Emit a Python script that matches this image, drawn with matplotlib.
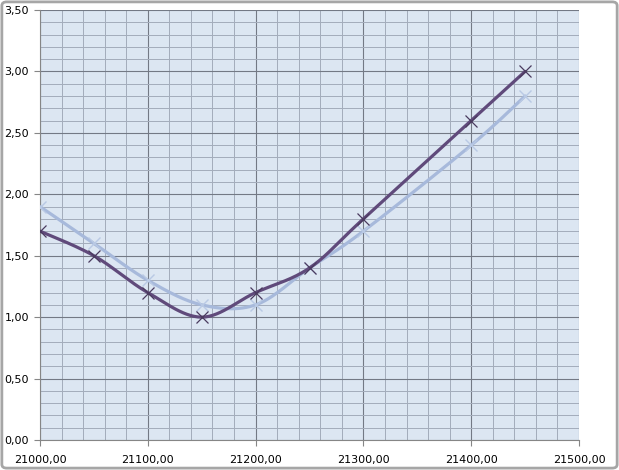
import numpy as np
import matplotlib
matplotlib.use('Agg')
import matplotlib.pyplot as plt
from matplotlib.ticker import MultipleLocator, FuncFormatter
from matplotlib.patches import FancyBboxPatch

# data
x_vals = [21000, 21050, 21100, 21150, 21200, 21250, 21300, 21400, 21450]
dark_y = [1.7, 1.5, 1.2, 1.0, 1.2, 1.4, 1.8, 2.6, 3.0]
light_y = [1.9, 1.6, 1.3, 1.1, 1.1, 1.4, 1.7, 2.4, 2.8]


def smooth(xs, ys, n=30):
    # excel-like smoothed line: cubic bezier with catmull-rom control points
    xs = np.asarray(xs, float)
    ys = np.asarray(ys, float)
    px, py = [], []
    for i in range(len(xs) - 1):
        i0 = max(i - 1, 0)
        i3 = min(i + 2, len(xs) - 1)
        c1x = xs[i] + (xs[i + 1] - xs[i0]) / 6
        c1y = ys[i] + (ys[i + 1] - ys[i0]) / 6
        c2x = xs[i + 1] - (xs[i3] - xs[i]) / 6
        c2y = ys[i + 1] - (ys[i3] - ys[i]) / 6
        t = np.linspace(0, 1, n)
        bx = (1-t)**3*xs[i] + 3*(1-t)**2*t*c1x + 3*(1-t)*t**2*c2x + t**3*xs[i+1]
        by = (1-t)**3*ys[i] + 3*(1-t)**2*t*c1y + 3*(1-t)*t**2*c2y + t**3*ys[i+1]
        px.extend(bx)
        py.extend(by)
    return px, py


fig = plt.figure(figsize=(6.19, 4.70), dpi=100)
# outer chart border
fig.patches.append(FancyBboxPatch((0.003, 0.004), 0.994, 0.992, boxstyle='round,pad=0,rounding_size=0.008',
                                  transform=fig.transFigure, fill=False, edgecolor='#A6A6A6', linewidth=2.0))

ax = fig.add_axes([40/619, 30/470, 539/619, 430/470])
ax.set_facecolor('#DCE6F2')

dark = '#604A7B'
light = '#A7B9DB'

sx, sy = smooth(x_vals, light_y)
ax.plot(sx, sy, color=light, lw=2.3, zorder=3, solid_capstyle='round')
ax.plot(x_vals, light_y, ls='none', marker='x', ms=8, mew=1.0, color='#B9C9E4', zorder=4)

sx, sy = smooth(x_vals, dark_y)
ax.plot(sx, sy, color=dark, lw=2.3, zorder=5, solid_capstyle='round')
ax.plot(x_vals, dark_y, ls='none', marker='x', ms=8, mew=0.9, color='#4A3A5E', zorder=6)

ax.set_xlim(21000, 21500)
ax.set_ylim(0, 3.5)
ax.xaxis.set_major_locator(MultipleLocator(100))
ax.xaxis.set_minor_locator(MultipleLocator(20))
ax.yaxis.set_major_locator(MultipleLocator(0.5))
ax.yaxis.set_minor_locator(MultipleLocator(0.1))
ax.xaxis.set_major_formatter(FuncFormatter(lambda v, p: f'{v:.2f}'.replace('.', ',')))
ax.yaxis.set_major_formatter(FuncFormatter(lambda v, p: f'{v:.2f}'.replace('.', ',')))

ax.grid(which='major', color='#737985', lw=0.8)
ax.grid(which='minor', color='#A4ADBC', lw=0.72)
ax.set_axisbelow(True)

for s in ['top', 'right']:
    ax.spines[s].set_visible(False)
ax.spines['left'].set_color('#868686')
ax.spines['bottom'].set_color('#868686')
ax.tick_params(which='major', length=4, color='#868686', labelsize=8, labelcolor='#000000')
ax.tick_params(which='minor', length=0)
ax.tick_params(axis='x', pad=7)
ax.tick_params(axis='y', pad=4)

fig.savefig('out.png', dpi=100)
